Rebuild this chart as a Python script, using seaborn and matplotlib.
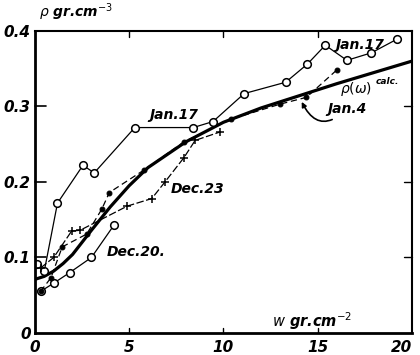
import matplotlib
matplotlib.use("Agg")
import matplotlib.pyplot as plt
import seaborn as sns
import pandas as pd

# Snow density against water equivalent, several observation days
jan17_w = [0.1, 0.5, 1.2, 2.55, 3.15, 5.3, 8.4, 9.45, 11.1, 13.3, 14.45, 15.4, 16.55, 17.85, 19.2]
jan17_rho = [0.092, 0.082, 0.172, 0.222, 0.212, 0.272, 0.272, 0.280, 0.317, 0.332, 0.356, 0.381, 0.361, 0.371, 0.389]

dec20_w = [0.3, 1.0, 1.85, 3.0, 4.2]
dec20_rho = [0.055, 0.066, 0.080, 0.100, 0.143]

jan4_w = [0.3, 0.85, 1.45, 2.75, 3.55, 3.95, 5.8, 7.9, 10.4, 13.0, 14.4, 16.0]
jan4_rho = [0.055, 0.073, 0.114, 0.131, 0.164, 0.186, 0.216, 0.253, 0.283, 0.303, 0.312, 0.348]

dec23_w = [0.3, 1.0, 1.95, 2.4, 4.9, 6.2, 6.9, 7.9, 8.5, 9.8]
dec23_rho = [0.086, 0.100, 0.135, 0.136, 0.168, 0.178, 0.200, 0.232, 0.255, 0.266]

calc_w = [0, 0.5, 1, 1.5, 2, 3, 4, 5, 6, 8, 10, 12, 14, 16, 18, 20]
calc_rho = [0.071, 0.075, 0.082, 0.092, 0.104, 0.136, 0.167, 0.195, 0.219, 0.253, 0.279, 0.298, 0.314, 0.330, 0.345, 0.360]

x_ticks = [0, 5, 10, 15, 20]
y_ticks = [0, 0.1, 0.2, 0.3, 0.4]
y_tick_labels = ["0", "0.1", "0.2", "0.3", "0.4"]

sns.set_style("white")
plt.rcParams["font.family"] = ["DejaVu Sans"]

fig = plt.figure(figsize=(4.2, 3.55), dpi=100)
ax = fig.add_axes([0.083, 0.062, 0.898, 0.851])

def frame(w, rho):
    return pd.DataFrame({"w": w, "rho": rho})

ink = "black"
sns.lineplot(data=frame(calc_w, calc_rho), x="w", y="rho", ax=ax, color=ink,
             linewidth=2.3, sort=False, estimator=None)
sns.lineplot(data=frame(jan17_w, jan17_rho), x="w", y="rho", ax=ax, color=ink,
             linewidth=0.9, marker="o", markersize=5.5, markerfacecolor="white",
             markeredgecolor=ink, markeredgewidth=1.1, sort=False, estimator=None)
sns.lineplot(data=frame(dec20_w, dec20_rho), x="w", y="rho", ax=ax, color=ink,
             linewidth=0.9, marker="o", markersize=5.5, markerfacecolor="white",
             markeredgecolor=ink, markeredgewidth=1.1, sort=False, estimator=None)
sns.lineplot(data=frame(jan4_w, jan4_rho), x="w", y="rho", ax=ax, color=ink,
             linewidth=0.9, linestyle=(0, (5, 3)), marker="o", markersize=3.5,
             markerfacecolor=ink, markeredgecolor=ink, sort=False, estimator=None)
sns.lineplot(data=frame(dec23_w, dec23_rho), x="w", y="rho", ax=ax, color=ink,
             linewidth=0.9, linestyle=(0, (6, 2)), marker="+", markersize=5.5,
             markeredgecolor=ink, markeredgewidth=1.1, sort=False, estimator=None)

ax.set_xlim(0, 20)
ax.set_ylim(0, 0.4)
ax.set_xlabel("")
ax.set_ylabel("")

tick_font = dict(fontsize=11, fontstyle="italic", fontweight="bold")
ax.set_xticks(x_ticks)
ax.set_xticklabels([str(t) for t in x_ticks], **tick_font)
ax.set_yticks(y_ticks)
ax.set_yticklabels(y_tick_labels, **tick_font)
ax.tick_params(axis="both", direction="in", length=0, colors=ink)
ax.tick_params(axis="x", pad=5)
ax.tick_params(axis="y", pad=3)
ax.get_xticklabels()[-1].set_ha("right")

# inward tick strokes on all four sides
for yv in y_ticks[1:4]:
    ax.plot([0, 0.6], [yv, yv], color=ink, lw=1.2, clip_on=False)
    ax.plot([19.6, 20], [yv, yv], color=ink, lw=1.0, clip_on=False)
for xv in x_ticks[1:4]:
    ax.plot([xv, xv], [0, 0.007], color=ink, lw=1.0, clip_on=False)
    ax.plot([xv, xv], [0.4, 0.392], color=ink, lw=1.0, clip_on=False)

for side, lw in [("left", 2.0), ("bottom", 2.0), ("top", 1.5), ("right", 1.5)]:
    ax.spines[side].set_visible(True)
    ax.spines[side].set_linewidth(lw)
    ax.spines[side].set_color(ink)

text_font = dict(fontsize=10, fontstyle="italic", fontweight="bold", color=ink)
ax.text(0.01, 1.025, r"$\rho$ gr.cm$^{-3}$", transform=ax.transAxes,
        ha="left", va="bottom", **text_font)
ax.text(12.6, 0.016, r"$w$ gr.cm$^{-2}$", ha="left", va="center", fontsize=10.5,
        fontstyle="italic", fontweight="bold", color=ink)

ax.text(7.35, 0.288, "Jan.17", ha="center", va="center", **text_font)
ax.text(17.25, 0.381, "Jan.17", ha="center", va="center", **text_font)
ax.text(16.2, 0.323, r"$\rho(\omega)$", ha="left", va="center", **text_font)
ax.text(18.05, 0.333, "calc.", ha="left", va="center", fontsize=6.5,
        fontstyle="italic", fontweight="bold", color=ink)
ax.text(8.65, 0.191, "Dec.23", ha="center", va="center", **text_font)
ax.text(3.8, 0.107, "Dec.20.", ha="left", va="center", **text_font)
ax.annotate("Jan.4", xy=(14.15, 0.306), xytext=(15.5, 0.297),
            ha="left", va="center", **text_font,
            arrowprops=dict(arrowstyle="-|>", color=ink, lw=1.2,
                            mutation_scale=7,
                            connectionstyle="arc3,rad=-0.7",
                            shrinkA=1, shrinkB=0))

fig.savefig("out.png", dpi=100)
